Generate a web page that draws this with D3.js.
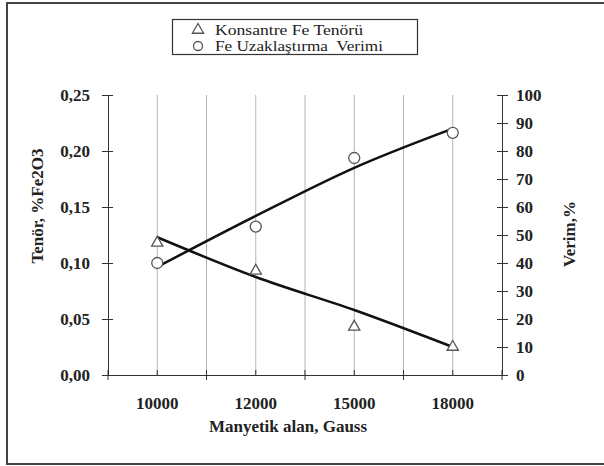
<!DOCTYPE html>
<html lang="tr">
<head>
  <meta charset="UTF-8">
  <title>Manyetik alan</title>
  <style>
    body { margin: 0; background: #fff; }
    svg text { font-family: "Liberation Serif", "Times New Roman", serif; }
  </style>
</head>
<body>
  <svg id="svg" width="604" height="466"></svg>
  <script src="https://cdn.jsdelivr.net/npm/d3@7"></script>
  <script>
    // data
    const categories = ['10000', '12000', '15000', '18000']
    const tenor = [0.118, 0.093, 0.043, 0.025]        // Konsantre Fe Tenörü
    const verim = [40, 53, 77.5, 86.5]                // Fe Uzaklaştırma Verimi
    const tenorTrend = [0.123, 0.0875, 0.058, 0.025]  // trend line
    const verimTrend = [38.6, 56.8, 74, 88]
    const leftTicks = [0, 0.05, 0.10, 0.15, 0.20, 0.25]
    const rightTicks = [0, 10, 20, 30, 40, 50, 60, 70, 80, 90, 100]

    const plotLeft = 108, plotRight = 502, plotTop = 95, plotBottom = 375
    const svg = d3.select('#svg')

    // outer frame
    svg.append('rect')
      .attr('x', 7).attr('y', 3).attr('width', 640).attr('height', 461)
      .attr('fill', 'none').attr('stroke', '#444').attr('stroke-width', 2)

    const x = d3.scaleBand().domain(categories).range([plotLeft, plotRight])
    const yL = d3.scaleLinear().domain([0, 0.25]).range([plotBottom, plotTop])
    const yR = d3.scaleLinear().domain([0, 100]).range([plotBottom, plotTop])
    const cx = d => x(d) + x.bandwidth() / 2

    // vertical grid: band centres and inner boundaries
    const gridX = categories.map(cx).concat(categories.slice(1).map(d => x(d)))
    svg.append('g').selectAll('line').data(gridX).join('line')
      .attr('x1', d => d).attr('x2', d => d)
      .attr('y1', plotTop).attr('y2', plotBottom)
      .attr('stroke', '#b4b4b4').attr('stroke-width', 1)

    const fmt = d => d3.format('.2f')(d).replace('.', ',')

    // left axis
    const gl = svg.append('g').attr('transform', `translate(${plotLeft},0)`)
      .call(d3.axisLeft(yL).tickValues(leftTicks).tickFormat(fmt).tickSizeOuter(0).tickPadding(12))
    gl.selectAll('.tick line').attr('x1', 5)

    // right axis
    const gr = svg.append('g').attr('transform', `translate(${plotRight},0)`)
      .call(d3.axisRight(yR).tickValues(rightTicks).tickSizeOuter(0).tickPadding(8))
    gr.selectAll('.tick line').attr('x1', -5)

    // bottom axis
    const gb = svg.append('g').attr('transform', `translate(0,${plotBottom})`)
      .call(d3.axisBottom(x).tickSize(0).tickPadding(22))
    const bounds = categories.map(d => x(d)).concat([x.range()[1]])
    gb.selectAll('line.bound').data(bounds).join('line').attr('class', 'bound')
      .attr('x1', d => d).attr('x2', d => d).attr('y1', -5).attr('y2', 5)
      .attr('stroke', '#333')
    gb.selectAll('line.mid').data(categories).join('line').attr('class', 'mid')
      .attr('x1', cx).attr('x2', cx).attr('y1', -5).attr('y2', 0)
      .attr('stroke', '#333')

    svg.selectAll('.domain, .tick line').attr('stroke', '#333')
    svg.selectAll('.tick text')
      .attr('font-size', 17).attr('font-weight', 'bold')
      .attr('font-family', '"Liberation Serif", serif').attr('fill', '#222')

    // axis titles
    svg.append('text').text('Manyetik alan, Gauss')
      .attr('x', 288).attr('y', 432).attr('text-anchor', 'middle')
      .attr('font-size', 17).attr('font-weight', 'bold').attr('fill', '#222')
    svg.append('text').text('Tenör, %Fe2O3')
      .attr('transform', 'translate(43,206) rotate(-90)').attr('text-anchor', 'middle')
      .attr('font-size', 17).attr('font-weight', 'bold').attr('fill', '#222')
    svg.append('text').text('Verim,%')
      .attr('transform', 'translate(575,234) rotate(-90)').attr('text-anchor', 'middle')
      .attr('font-size', 17).attr('font-weight', 'bold').attr('fill', '#222')

    // trend lines
    const lineL = d3.line().x((d, i) => cx(categories[i])).y(d => yL(d)).curve(d3.curveMonotoneX)
    const lineR = d3.line().x((d, i) => cx(categories[i])).y(d => yR(d)).curve(d3.curveMonotoneX)
    svg.append('path').attr('d', lineL(tenorTrend))
      .attr('fill', 'none').attr('stroke', '#111').attr('stroke-width', 2.5)
    svg.append('path').attr('d', lineR(verimTrend))
      .attr('fill', 'none').attr('stroke', '#111').attr('stroke-width', 2.5)

    // markers
    const tri = d3.symbol().type(d3.symbolTriangle).size(55)
    svg.append('g').selectAll('path').data(tenor).join('path')
      .attr('d', tri)
      .attr('transform', (d, i) => `translate(${cx(categories[i])},${yL(d)})`)
      .attr('fill', '#fff').attr('stroke', '#555').attr('stroke-width', 1.3)
    svg.append('g').selectAll('circle').data(verim).join('circle')
      .attr('cx', (d, i) => cx(categories[i])).attr('cy', d => yR(d)).attr('r', 5.5)
      .attr('fill', '#fff').attr('stroke', '#555').attr('stroke-width', 1.3)

    // legend
    svg.append('rect').attr('x', 172.5).attr('y', 19.5).attr('width', 245).attr('height', 35)
      .attr('fill', '#fff').attr('stroke', '#333').attr('stroke-width', 1.2)
    svg.append('path').attr('d', tri).attr('transform', 'translate(198,30)')
      .attr('fill', '#fff').attr('stroke', '#555').attr('stroke-width', 1.3)
    svg.append('circle').attr('cx', 198).attr('cy', 46).attr('r', 4.5)
      .attr('fill', '#fff').attr('stroke', '#555').attr('stroke-width', 1.3)
    svg.append('text').text('Konsantre Fe Tenörü').attr('x', 215).attr('y', 34.5)
      .attr('font-size', 14).attr('fill', '#222')
      .attr('textLength', 148).attr('lengthAdjust', 'spacingAndGlyphs')
    svg.append('text').text('Fe Uzaklaştırma  Verimi').attr('x', 215).attr('y', 50.5)
      .attr('font-size', 14).attr('fill', '#222').style('white-space', 'pre')
      .attr('textLength', 168).attr('lengthAdjust', 'spacingAndGlyphs')
  </script>
</body>
</html>
